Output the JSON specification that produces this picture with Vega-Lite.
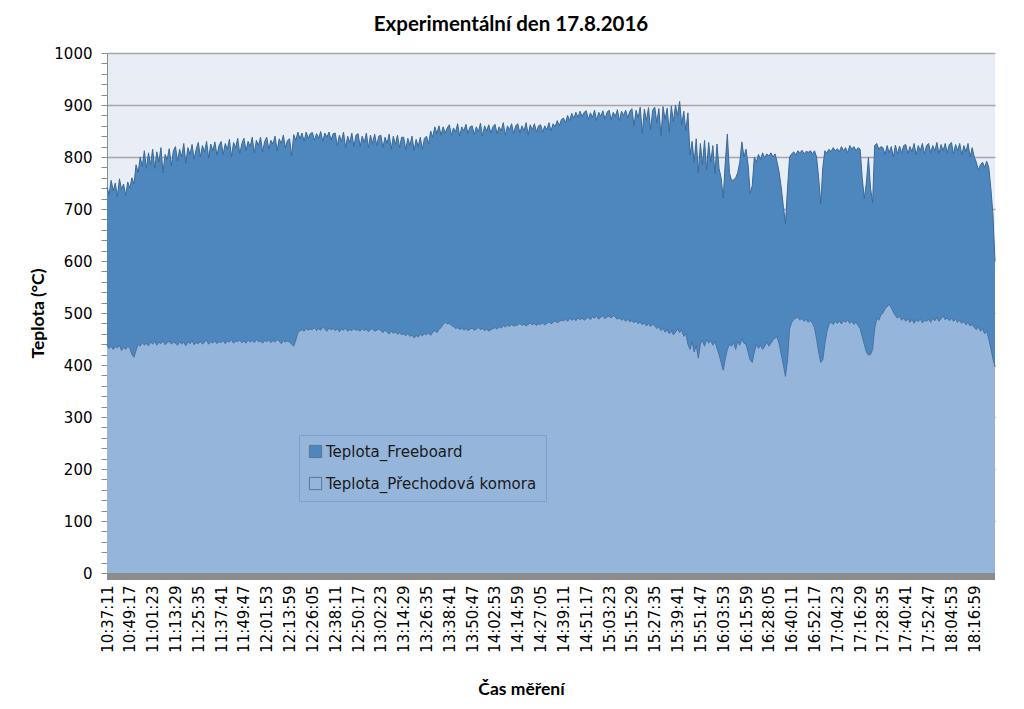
{
"$schema": "https://vega.github.io/schema/vega-lite/v6.json",
"width": 888, "height": 520,
"autosize": {"type": "none"},
"padding": {"left": 107, "top": 53, "right": 29, "bottom": 136},
"background": "white",
"title": {"text": "Experimentální den 17.8.2016", "font": "Lato", "fontSize": 20.5, "fontWeight": "bold", "color": "#000000", "anchor": "middle", "dx": -40, "dy": 19, "offset": 14, "baseline": "alphabetic"},
"data": {"values": [
{"t":"2016-08-17T10:37:11","f":742,"p":438},{"t":"2016-08-17T10:38:17","f":728,"p":432},{"t":"2016-08-17T10:39:23","f":755,"p":436},{"t":"2016-08-17T10:40:29","f":735,"p":430},{"t":"2016-08-17T10:41:35","f":750,"p":435},{"t":"2016-08-17T10:42:41","f":724,"p":433},{"t":"2016-08-17T10:43:47","f":758,"p":438},{"t":"2016-08-17T10:44:53","f":738,"p":428},{"t":"2016-08-17T10:45:59","f":748,"p":434},{"t":"2016-08-17T10:47:05","f":726,"p":430},{"t":"2016-08-17T10:48:11","f":752,"p":436},
{"t":"2016-08-17T10:49:17","f":740,"p":432},{"t":"2016-08-17T10:50:23","f":760,"p":420},{"t":"2016-08-17T10:51:29","f":748,"p":415},{"t":"2016-08-17T10:52:35","f":785,"p":428},{"t":"2016-08-17T10:53:41","f":770,"p":440},{"t":"2016-08-17T10:54:47","f":800,"p":436},{"t":"2016-08-17T10:55:53","f":782,"p":444},{"t":"2016-08-17T10:56:59","f":812,"p":438},{"t":"2016-08-17T10:58:05","f":778,"p":442},{"t":"2016-08-17T10:59:11","f":808,"p":437},{"t":"2016-08-17T11:00:17","f":785,"p":445},
{"t":"2016-08-17T11:01:23","f":815,"p":440},{"t":"2016-08-17T11:02:29","f":778,"p":446},{"t":"2016-08-17T11:03:35","f":810,"p":438},{"t":"2016-08-17T11:04:41","f":790,"p":444},{"t":"2016-08-17T11:05:47","f":818,"p":441},{"t":"2016-08-17T11:06:53","f":770,"p":447},{"t":"2016-08-17T11:07:59","f":805,"p":439},{"t":"2016-08-17T11:09:05","f":795,"p":443},{"t":"2016-08-17T11:10:11","f":816,"p":446},{"t":"2016-08-17T11:11:17","f":783,"p":440},{"t":"2016-08-17T11:12:23","f":812,"p":444},
{"t":"2016-08-17T11:13:29","f":820,"p":442},{"t":"2016-08-17T11:14:35","f":792,"p":438},{"t":"2016-08-17T11:15:41","f":815,"p":446},{"t":"2016-08-17T11:16:47","f":800,"p":440},{"t":"2016-08-17T11:17:53","f":826,"p":444},{"t":"2016-08-17T11:18:59","f":788,"p":437},{"t":"2016-08-17T11:20:05","f":818,"p":445},{"t":"2016-08-17T11:21:11","f":805,"p":441},{"t":"2016-08-17T11:22:17","f":824,"p":447},{"t":"2016-08-17T11:23:23","f":796,"p":439},{"t":"2016-08-17T11:24:29","f":815,"p":443},
{"t":"2016-08-17T11:25:35","f":828,"p":441},{"t":"2016-08-17T11:26:41","f":800,"p":446},{"t":"2016-08-17T11:27:47","f":822,"p":440},{"t":"2016-08-17T11:28:53","f":810,"p":444},{"t":"2016-08-17T11:29:59","f":830,"p":448},{"t":"2016-08-17T11:31:05","f":798,"p":440},{"t":"2016-08-17T11:32:11","f":825,"p":445},{"t":"2016-08-17T11:33:17","f":812,"p":442},{"t":"2016-08-17T11:34:23","f":829,"p":447},{"t":"2016-08-17T11:35:29","f":803,"p":441},{"t":"2016-08-17T11:36:35","f":822,"p":445},
{"t":"2016-08-17T11:37:41","f":830,"p":443},{"t":"2016-08-17T11:38:47","f":805,"p":447},{"t":"2016-08-17T11:39:53","f":826,"p":441},{"t":"2016-08-17T11:40:59","f":815,"p":446},{"t":"2016-08-17T11:42:05","f":834,"p":444},{"t":"2016-08-17T11:43:11","f":800,"p":449},{"t":"2016-08-17T11:44:17","f":828,"p":442},{"t":"2016-08-17T11:45:23","f":818,"p":446},{"t":"2016-08-17T11:46:29","f":836,"p":445},{"t":"2016-08-17T11:47:35","f":806,"p":448},{"t":"2016-08-17T11:48:41","f":826,"p":443},
{"t":"2016-08-17T11:49:47","f":836,"p":446},{"t":"2016-08-17T11:50:53","f":812,"p":442},{"t":"2016-08-17T11:51:59","f":830,"p":448},{"t":"2016-08-17T11:53:05","f":820,"p":444},{"t":"2016-08-17T11:54:11","f":838,"p":447},{"t":"2016-08-17T11:55:17","f":808,"p":443},{"t":"2016-08-17T11:56:23","f":832,"p":449},{"t":"2016-08-17T11:57:29","f":822,"p":445},{"t":"2016-08-17T11:58:35","f":838,"p":446},{"t":"2016-08-17T11:59:41","f":810,"p":442},{"t":"2016-08-17T12:00:47","f":830,"p":447},
{"t":"2016-08-17T12:01:53","f":838,"p":445},{"t":"2016-08-17T12:02:59","f":815,"p":448},{"t":"2016-08-17T12:04:05","f":832,"p":443},{"t":"2016-08-17T12:05:11","f":825,"p":447},{"t":"2016-08-17T12:06:17","f":840,"p":444},{"t":"2016-08-17T12:07:23","f":812,"p":449},{"t":"2016-08-17T12:08:29","f":835,"p":446},{"t":"2016-08-17T12:09:35","f":826,"p":441},{"t":"2016-08-17T12:10:41","f":842,"p":447},{"t":"2016-08-17T12:11:47","f":818,"p":444},{"t":"2016-08-17T12:12:53","f":832,"p":446},
{"t":"2016-08-17T12:13:59","f":835,"p":444},{"t":"2016-08-17T12:15:05","f":802,"p":440},{"t":"2016-08-17T12:16:11","f":843,"p":436},{"t":"2016-08-17T12:17:17","f":832,"p":448},{"t":"2016-08-17T12:18:23","f":848,"p":462},{"t":"2016-08-17T12:19:29","f":835,"p":466},{"t":"2016-08-17T12:20:35","f":846,"p":468},{"t":"2016-08-17T12:21:41","f":830,"p":465},{"t":"2016-08-17T12:22:47","f":848,"p":470},{"t":"2016-08-17T12:23:53","f":836,"p":467},{"t":"2016-08-17T12:24:59","f":845,"p":469},
{"t":"2016-08-17T12:26:05","f":847,"p":468},{"t":"2016-08-17T12:27:11","f":832,"p":472},{"t":"2016-08-17T12:28:17","f":845,"p":466},{"t":"2016-08-17T12:29:23","f":836,"p":470},{"t":"2016-08-17T12:30:29","f":849,"p":467},{"t":"2016-08-17T12:31:35","f":830,"p":473},{"t":"2016-08-17T12:32:41","f":846,"p":469},{"t":"2016-08-17T12:33:47","f":838,"p":465},{"t":"2016-08-17T12:34:53","f":848,"p":471},{"t":"2016-08-17T12:35:59","f":833,"p":468},{"t":"2016-08-17T12:37:05","f":845,"p":470},
{"t":"2016-08-17T12:38:11","f":846,"p":466},{"t":"2016-08-17T12:39:17","f":822,"p":470},{"t":"2016-08-17T12:40:23","f":842,"p":464},{"t":"2016-08-17T12:41:29","f":830,"p":469},{"t":"2016-08-17T12:42:35","f":848,"p":467},{"t":"2016-08-17T12:43:41","f":818,"p":471},{"t":"2016-08-17T12:44:47","f":840,"p":465},{"t":"2016-08-17T12:45:53","f":828,"p":468},{"t":"2016-08-17T12:46:59","f":846,"p":466},{"t":"2016-08-17T12:48:05","f":820,"p":470},{"t":"2016-08-17T12:49:11","f":842,"p":467},
{"t":"2016-08-17T12:50:17","f":845,"p":468},{"t":"2016-08-17T12:51:23","f":820,"p":465},{"t":"2016-08-17T12:52:29","f":840,"p":470},{"t":"2016-08-17T12:53:35","f":828,"p":466},{"t":"2016-08-17T12:54:41","f":846,"p":469},{"t":"2016-08-17T12:55:47","f":818,"p":464},{"t":"2016-08-17T12:56:53","f":842,"p":468},{"t":"2016-08-17T12:57:59","f":826,"p":470},{"t":"2016-08-17T12:59:05","f":844,"p":465},{"t":"2016-08-17T13:00:11","f":822,"p":467},{"t":"2016-08-17T13:01:17","f":840,"p":469},
{"t":"2016-08-17T13:02:23","f":842,"p":466},{"t":"2016-08-17T13:03:29","f":818,"p":462},{"t":"2016-08-17T13:04:35","f":838,"p":468},{"t":"2016-08-17T13:05:41","f":826,"p":463},{"t":"2016-08-17T13:06:47","f":844,"p":460},{"t":"2016-08-17T13:07:53","f":815,"p":465},{"t":"2016-08-17T13:08:59","f":840,"p":461},{"t":"2016-08-17T13:10:05","f":824,"p":464},{"t":"2016-08-17T13:11:11","f":842,"p":459},{"t":"2016-08-17T13:12:17","f":818,"p":462},{"t":"2016-08-17T13:13:23","f":838,"p":458},
{"t":"2016-08-17T13:14:29","f":838,"p":460},{"t":"2016-08-17T13:15:35","f":814,"p":456},{"t":"2016-08-17T13:16:41","f":836,"p":461},{"t":"2016-08-17T13:17:47","f":822,"p":455},{"t":"2016-08-17T13:18:53","f":840,"p":458},{"t":"2016-08-17T13:19:59","f":812,"p":452},{"t":"2016-08-17T13:21:05","f":834,"p":457},{"t":"2016-08-17T13:22:11","f":820,"p":454},{"t":"2016-08-17T13:23:17","f":838,"p":459},{"t":"2016-08-17T13:24:23","f":815,"p":456},{"t":"2016-08-17T13:25:29","f":836,"p":460},
{"t":"2016-08-17T13:26:35","f":840,"p":458},{"t":"2016-08-17T13:27:41","f":825,"p":462},{"t":"2016-08-17T13:28:47","f":850,"p":457},{"t":"2016-08-17T13:29:53","f":838,"p":463},{"t":"2016-08-17T13:30:59","f":858,"p":466},{"t":"2016-08-17T13:32:05","f":845,"p":462},{"t":"2016-08-17T13:33:11","f":860,"p":468},{"t":"2016-08-17T13:34:17","f":842,"p":472},{"t":"2016-08-17T13:35:23","f":858,"p":478},{"t":"2016-08-17T13:36:29","f":846,"p":482},{"t":"2016-08-17T13:37:35","f":856,"p":479},
{"t":"2016-08-17T13:38:41","f":862,"p":480},{"t":"2016-08-17T13:39:47","f":842,"p":476},{"t":"2016-08-17T13:40:53","f":856,"p":474},{"t":"2016-08-17T13:41:59","f":848,"p":470},{"t":"2016-08-17T13:43:05","f":864,"p":472},{"t":"2016-08-17T13:44:11","f":840,"p":468},{"t":"2016-08-17T13:45:17","f":858,"p":471},{"t":"2016-08-17T13:46:23","f":850,"p":467},{"t":"2016-08-17T13:47:29","f":863,"p":470},{"t":"2016-08-17T13:48:35","f":845,"p":466},{"t":"2016-08-17T13:49:41","f":858,"p":469},
{"t":"2016-08-17T13:50:47","f":860,"p":471},{"t":"2016-08-17T13:51:53","f":843,"p":467},{"t":"2016-08-17T13:52:59","f":858,"p":469},{"t":"2016-08-17T13:54:05","f":848,"p":472},{"t":"2016-08-17T13:55:11","f":865,"p":468},{"t":"2016-08-17T13:56:17","f":840,"p":470},{"t":"2016-08-17T13:57:23","f":860,"p":466},{"t":"2016-08-17T13:58:29","f":850,"p":469},{"t":"2016-08-17T13:59:35","f":862,"p":465},{"t":"2016-08-17T14:00:41","f":846,"p":468},{"t":"2016-08-17T14:01:47","f":858,"p":470},
{"t":"2016-08-17T14:02:53","f":863,"p":472},{"t":"2016-08-17T14:03:59","f":845,"p":469},{"t":"2016-08-17T14:05:05","f":858,"p":474},{"t":"2016-08-17T14:06:11","f":850,"p":471},{"t":"2016-08-17T14:07:17","f":866,"p":476},{"t":"2016-08-17T14:08:23","f":842,"p":473},{"t":"2016-08-17T14:09:29","f":860,"p":477},{"t":"2016-08-17T14:10:35","f":852,"p":474},{"t":"2016-08-17T14:11:41","f":864,"p":478},{"t":"2016-08-17T14:12:47","f":845,"p":475},{"t":"2016-08-17T14:13:53","f":860,"p":476},
{"t":"2016-08-17T14:14:59","f":864,"p":477},{"t":"2016-08-17T14:16:05","f":846,"p":480},{"t":"2016-08-17T14:17:11","f":860,"p":476},{"t":"2016-08-17T14:18:17","f":850,"p":479},{"t":"2016-08-17T14:19:23","f":866,"p":475},{"t":"2016-08-17T14:20:29","f":843,"p":478},{"t":"2016-08-17T14:21:35","f":862,"p":481},{"t":"2016-08-17T14:22:41","f":852,"p":477},{"t":"2016-08-17T14:23:47","f":864,"p":480},{"t":"2016-08-17T14:24:53","f":848,"p":476},{"t":"2016-08-17T14:25:59","f":860,"p":479},
{"t":"2016-08-17T14:27:05","f":862,"p":478},{"t":"2016-08-17T14:28:11","f":848,"p":481},{"t":"2016-08-17T14:29:17","f":860,"p":477},{"t":"2016-08-17T14:30:23","f":852,"p":480},{"t":"2016-08-17T14:31:29","f":866,"p":483},{"t":"2016-08-17T14:32:35","f":850,"p":479},{"t":"2016-08-17T14:33:41","f":864,"p":482},{"t":"2016-08-17T14:34:47","f":858,"p":485},{"t":"2016-08-17T14:35:53","f":870,"p":481},{"t":"2016-08-17T14:36:59","f":860,"p":484},{"t":"2016-08-17T14:38:05","f":872,"p":486},
{"t":"2016-08-17T14:39:11","f":875,"p":485},{"t":"2016-08-17T14:40:17","f":866,"p":488},{"t":"2016-08-17T14:41:23","f":880,"p":484},{"t":"2016-08-17T14:42:29","f":870,"p":490},{"t":"2016-08-17T14:43:35","f":884,"p":486},{"t":"2016-08-17T14:44:41","f":874,"p":489},{"t":"2016-08-17T14:45:47","f":886,"p":485},{"t":"2016-08-17T14:46:53","f":876,"p":491},{"t":"2016-08-17T14:47:59","f":888,"p":487},{"t":"2016-08-17T14:49:05","f":878,"p":490},{"t":"2016-08-17T14:50:11","f":886,"p":486},
{"t":"2016-08-17T14:51:17","f":889,"p":489},{"t":"2016-08-17T14:52:23","f":872,"p":492},{"t":"2016-08-17T14:53:29","f":885,"p":487},{"t":"2016-08-17T14:54:35","f":876,"p":493},{"t":"2016-08-17T14:55:41","f":890,"p":490},{"t":"2016-08-17T14:56:47","f":870,"p":494},{"t":"2016-08-17T14:57:53","f":886,"p":488},{"t":"2016-08-17T14:58:59","f":878,"p":492},{"t":"2016-08-17T15:00:05","f":889,"p":495},{"t":"2016-08-17T15:01:11","f":873,"p":489},{"t":"2016-08-17T15:02:17","f":886,"p":493},
{"t":"2016-08-17T15:03:23","f":890,"p":494},{"t":"2016-08-17T15:04:29","f":872,"p":490},{"t":"2016-08-17T15:05:35","f":886,"p":496},{"t":"2016-08-17T15:06:41","f":878,"p":492},{"t":"2016-08-17T15:07:47","f":891,"p":488},{"t":"2016-08-17T15:08:53","f":870,"p":491},{"t":"2016-08-17T15:09:59","f":888,"p":486},{"t":"2016-08-17T15:11:05","f":880,"p":489},{"t":"2016-08-17T15:12:11","f":890,"p":484},{"t":"2016-08-17T15:13:17","f":875,"p":488},{"t":"2016-08-17T15:14:23","f":888,"p":483},
{"t":"2016-08-17T15:15:29","f":893,"p":486},{"t":"2016-08-17T15:16:35","f":860,"p":481},{"t":"2016-08-17T15:17:41","f":890,"p":485},{"t":"2016-08-17T15:18:47","f":875,"p":479},{"t":"2016-08-17T15:19:53","f":896,"p":483},{"t":"2016-08-17T15:20:59","f":845,"p":477},{"t":"2016-08-17T15:22:05","f":892,"p":481},{"t":"2016-08-17T15:23:11","f":870,"p":475},{"t":"2016-08-17T15:24:17","f":895,"p":480},{"t":"2016-08-17T15:25:23","f":852,"p":474},{"t":"2016-08-17T15:26:29","f":890,"p":478},
{"t":"2016-08-17T15:27:35","f":896,"p":476},{"t":"2016-08-17T15:28:41","f":866,"p":470},{"t":"2016-08-17T15:29:47","f":893,"p":474},{"t":"2016-08-17T15:30:53","f":840,"p":466},{"t":"2016-08-17T15:31:59","f":897,"p":471},{"t":"2016-08-17T15:33:05","f":872,"p":463},{"t":"2016-08-17T15:34:11","f":894,"p":468},{"t":"2016-08-17T15:35:17","f":848,"p":460},{"t":"2016-08-17T15:36:23","f":898,"p":466},{"t":"2016-08-17T15:37:29","f":868,"p":458},{"t":"2016-08-17T15:38:35","f":900,"p":463},
{"t":"2016-08-17T15:39:41","f":880,"p":470},{"t":"2016-08-17T15:40:47","f":907,"p":462},{"t":"2016-08-17T15:41:53","f":862,"p":468},{"t":"2016-08-17T15:42:59","f":888,"p":455},{"t":"2016-08-17T15:44:05","f":850,"p":460},{"t":"2016-08-17T15:45:11","f":885,"p":440},{"t":"2016-08-17T15:46:17","f":804,"p":430},{"t":"2016-08-17T15:47:23","f":830,"p":445},{"t":"2016-08-17T15:48:29","f":790,"p":425},{"t":"2016-08-17T15:49:35","f":835,"p":438},{"t":"2016-08-17T15:50:41","f":770,"p":413},
{"t":"2016-08-17T15:51:47","f":826,"p":440},{"t":"2016-08-17T15:52:53","f":785,"p":448},{"t":"2016-08-17T15:53:59","f":832,"p":436},{"t":"2016-08-17T15:55:05","f":775,"p":450},{"t":"2016-08-17T15:56:11","f":828,"p":442},{"t":"2016-08-17T15:57:17","f":790,"p":447},{"t":"2016-08-17T15:58:23","f":822,"p":438},{"t":"2016-08-17T15:59:29","f":768,"p":446},{"t":"2016-08-17T16:00:35","f":825,"p":432},{"t":"2016-08-17T16:01:41","f":778,"p":420},{"t":"2016-08-17T16:02:47","f":760,"p":405},
{"t":"2016-08-17T16:03:53","f":721,"p":390},{"t":"2016-08-17T16:04:59","f":790,"p":412},{"t":"2016-08-17T16:06:05","f":844,"p":430},{"t":"2016-08-17T16:07:11","f":770,"p":440},{"t":"2016-08-17T16:08:17","f":755,"p":436},{"t":"2016-08-17T16:09:23","f":756,"p":444},{"t":"2016-08-17T16:10:29","f":760,"p":430},{"t":"2016-08-17T16:11:35","f":770,"p":446},{"t":"2016-08-17T16:12:41","f":790,"p":438},{"t":"2016-08-17T16:13:47","f":829,"p":450},{"t":"2016-08-17T16:14:53","f":800,"p":442},
{"t":"2016-08-17T16:15:59","f":815,"p":440},{"t":"2016-08-17T16:17:05","f":785,"p":425},{"t":"2016-08-17T16:18:11","f":730,"p":410},{"t":"2016-08-17T16:19:17","f":745,"p":405},{"t":"2016-08-17T16:20:23","f":800,"p":425},{"t":"2016-08-17T16:21:29","f":790,"p":440},{"t":"2016-08-17T16:22:35","f":805,"p":432},{"t":"2016-08-17T16:23:41","f":795,"p":438},{"t":"2016-08-17T16:24:47","f":808,"p":430},{"t":"2016-08-17T16:25:53","f":798,"p":436},{"t":"2016-08-17T16:26:59","f":806,"p":445},
{"t":"2016-08-17T16:28:05","f":802,"p":436},{"t":"2016-08-17T16:29:11","f":808,"p":442},{"t":"2016-08-17T16:30:17","f":800,"p":448},{"t":"2016-08-17T16:31:23","f":806,"p":452},{"t":"2016-08-17T16:32:29","f":790,"p":454},{"t":"2016-08-17T16:33:35","f":770,"p":440},{"t":"2016-08-17T16:34:41","f":740,"p":420},{"t":"2016-08-17T16:35:47","f":705,"p":400},{"t":"2016-08-17T16:36:53","f":672,"p":378},{"t":"2016-08-17T16:37:59","f":740,"p":410},{"t":"2016-08-17T16:39:05","f":800,"p":470},
{"t":"2016-08-17T16:40:11","f":806,"p":482},{"t":"2016-08-17T16:41:17","f":810,"p":488},{"t":"2016-08-17T16:42:23","f":804,"p":490},{"t":"2016-08-17T16:43:29","f":812,"p":492},{"t":"2016-08-17T16:44:35","f":808,"p":486},{"t":"2016-08-17T16:45:41","f":813,"p":490},{"t":"2016-08-17T16:46:47","f":806,"p":484},{"t":"2016-08-17T16:47:53","f":811,"p":488},{"t":"2016-08-17T16:48:59","f":809,"p":482},{"t":"2016-08-17T16:50:05","f":812,"p":486},{"t":"2016-08-17T16:51:11","f":806,"p":480},
{"t":"2016-08-17T16:52:17","f":812,"p":472},{"t":"2016-08-17T16:53:23","f":800,"p":450},{"t":"2016-08-17T16:54:29","f":760,"p":425},{"t":"2016-08-17T16:55:35","f":710,"p":405},{"t":"2016-08-17T16:56:41","f":780,"p":410},{"t":"2016-08-17T16:57:47","f":812,"p":440},{"t":"2016-08-17T16:58:53","f":808,"p":465},{"t":"2016-08-17T16:59:59","f":815,"p":478},{"t":"2016-08-17T17:01:05","f":810,"p":482},{"t":"2016-08-17T17:02:11","f":818,"p":478},{"t":"2016-08-17T17:03:17","f":812,"p":484},
{"t":"2016-08-17T17:04:23","f":816,"p":480},{"t":"2016-08-17T17:05:29","f":810,"p":485},{"t":"2016-08-17T17:06:35","f":820,"p":479},{"t":"2016-08-17T17:07:41","f":812,"p":486},{"t":"2016-08-17T17:08:47","f":818,"p":482},{"t":"2016-08-17T17:09:53","f":808,"p":487},{"t":"2016-08-17T17:10:59","f":822,"p":480},{"t":"2016-08-17T17:12:05","f":815,"p":484},{"t":"2016-08-17T17:13:11","f":820,"p":478},{"t":"2016-08-17T17:14:17","f":812,"p":483},{"t":"2016-08-17T17:15:23","f":818,"p":476},
{"t":"2016-08-17T17:16:29","f":815,"p":470},{"t":"2016-08-17T17:17:35","f":760,"p":455},{"t":"2016-08-17T17:18:41","f":720,"p":440},{"t":"2016-08-17T17:19:47","f":750,"p":425},{"t":"2016-08-17T17:20:53","f":800,"p":419},{"t":"2016-08-17T17:21:59","f":740,"p":420},{"t":"2016-08-17T17:23:05","f":712,"p":430},{"t":"2016-08-17T17:24:11","f":822,"p":470},{"t":"2016-08-17T17:25:17","f":826,"p":490},{"t":"2016-08-17T17:26:23","f":815,"p":486},{"t":"2016-08-17T17:27:29","f":820,"p":496},
{"t":"2016-08-17T17:28:35","f":818,"p":500},{"t":"2016-08-17T17:29:41","f":805,"p":508},{"t":"2016-08-17T17:30:47","f":822,"p":512},{"t":"2016-08-17T17:31:53","f":808,"p":517},{"t":"2016-08-17T17:32:59","f":820,"p":510},{"t":"2016-08-17T17:34:05","f":800,"p":502},{"t":"2016-08-17T17:35:11","f":823,"p":495},{"t":"2016-08-17T17:36:17","f":806,"p":490},{"t":"2016-08-17T17:37:23","f":821,"p":494},{"t":"2016-08-17T17:38:29","f":808,"p":486},{"t":"2016-08-17T17:39:35","f":822,"p":490},
{"t":"2016-08-17T17:40:41","f":824,"p":484},{"t":"2016-08-17T17:41:47","f":806,"p":490},{"t":"2016-08-17T17:42:53","f":820,"p":482},{"t":"2016-08-17T17:43:59","f":810,"p":488},{"t":"2016-08-17T17:45:05","f":826,"p":480},{"t":"2016-08-17T17:46:11","f":804,"p":487},{"t":"2016-08-17T17:47:17","f":822,"p":483},{"t":"2016-08-17T17:48:23","f":812,"p":489},{"t":"2016-08-17T17:49:29","f":826,"p":481},{"t":"2016-08-17T17:50:35","f":806,"p":486},{"t":"2016-08-17T17:51:41","f":822,"p":484},
{"t":"2016-08-17T17:52:47","f":826,"p":488},{"t":"2016-08-17T17:53:53","f":808,"p":482},{"t":"2016-08-17T17:54:59","f":822,"p":490},{"t":"2016-08-17T17:56:05","f":812,"p":485},{"t":"2016-08-17T17:57:11","f":828,"p":492},{"t":"2016-08-17T17:58:17","f":806,"p":484},{"t":"2016-08-17T17:59:23","f":824,"p":489},{"t":"2016-08-17T18:00:29","f":812,"p":495},{"t":"2016-08-17T18:01:35","f":826,"p":487},{"t":"2016-08-17T18:02:41","f":808,"p":491},{"t":"2016-08-17T18:03:47","f":824,"p":485},
{"t":"2016-08-17T18:04:53","f":828,"p":490},{"t":"2016-08-17T18:05:59","f":806,"p":484},{"t":"2016-08-17T18:07:05","f":824,"p":488},{"t":"2016-08-17T18:08:11","f":812,"p":482},{"t":"2016-08-17T18:09:17","f":826,"p":486},{"t":"2016-08-17T18:10:23","f":804,"p":480},{"t":"2016-08-17T18:11:29","f":822,"p":484},{"t":"2016-08-17T18:12:35","f":810,"p":477},{"t":"2016-08-17T18:13:41","f":826,"p":482},{"t":"2016-08-17T18:14:47","f":800,"p":475},{"t":"2016-08-17T18:15:53","f":818,"p":478},
{"t":"2016-08-17T18:16:59","f":800,"p":472},{"t":"2016-08-17T18:18:05","f":790,"p":468},{"t":"2016-08-17T18:19:11","f":775,"p":474},{"t":"2016-08-17T18:20:17","f":785,"p":465},{"t":"2016-08-17T18:21:23","f":790,"p":470},{"t":"2016-08-17T18:22:29","f":780,"p":460},{"t":"2016-08-17T18:23:35","f":792,"p":465},{"t":"2016-08-17T18:24:41","f":780,"p":450},{"t":"2016-08-17T18:25:47","f":740,"p":432},{"t":"2016-08-17T18:26:53","f":690,"p":412},{"t":"2016-08-17T18:27:59","f":600,"p":396}
]},
"resolve": {"axis": {"x": "independent", "y": "independent"}},
"layer": [
{
"mark": {"type": "area", "opacity": 1},
"encoding": {
"x": {"field": "t", "type": "temporal",
 "scale": {"nice": false, "domain": [{"year":2016,"month":8,"date":17,"hours":10,"minutes":37,"seconds":11},{"year":2016,"month":8,"date":17,"hours":18,"minutes":27,"seconds":59}]},
 "axis": {
  "values": [
   {"year":2016,"month":8,"date":17,"hours":10,"minutes":37,"seconds":11},
   {"year":2016,"month":8,"date":17,"hours":10,"minutes":49,"seconds":17},
   {"year":2016,"month":8,"date":17,"hours":11,"minutes":1,"seconds":23},
   {"year":2016,"month":8,"date":17,"hours":11,"minutes":13,"seconds":29},
   {"year":2016,"month":8,"date":17,"hours":11,"minutes":25,"seconds":35},
   {"year":2016,"month":8,"date":17,"hours":11,"minutes":37,"seconds":41},
   {"year":2016,"month":8,"date":17,"hours":11,"minutes":49,"seconds":47},
   {"year":2016,"month":8,"date":17,"hours":12,"minutes":1,"seconds":53},
   {"year":2016,"month":8,"date":17,"hours":12,"minutes":13,"seconds":59},
   {"year":2016,"month":8,"date":17,"hours":12,"minutes":26,"seconds":5},
   {"year":2016,"month":8,"date":17,"hours":12,"minutes":38,"seconds":11},
   {"year":2016,"month":8,"date":17,"hours":12,"minutes":50,"seconds":17},
   {"year":2016,"month":8,"date":17,"hours":13,"minutes":2,"seconds":23},
   {"year":2016,"month":8,"date":17,"hours":13,"minutes":14,"seconds":29},
   {"year":2016,"month":8,"date":17,"hours":13,"minutes":26,"seconds":35},
   {"year":2016,"month":8,"date":17,"hours":13,"minutes":38,"seconds":41},
   {"year":2016,"month":8,"date":17,"hours":13,"minutes":50,"seconds":47},
   {"year":2016,"month":8,"date":17,"hours":14,"minutes":2,"seconds":53},
   {"year":2016,"month":8,"date":17,"hours":14,"minutes":14,"seconds":59},
   {"year":2016,"month":8,"date":17,"hours":14,"minutes":27,"seconds":5},
   {"year":2016,"month":8,"date":17,"hours":14,"minutes":39,"seconds":11},
   {"year":2016,"month":8,"date":17,"hours":14,"minutes":51,"seconds":17},
   {"year":2016,"month":8,"date":17,"hours":15,"minutes":3,"seconds":23},
   {"year":2016,"month":8,"date":17,"hours":15,"minutes":15,"seconds":29},
   {"year":2016,"month":8,"date":17,"hours":15,"minutes":27,"seconds":35},
   {"year":2016,"month":8,"date":17,"hours":15,"minutes":39,"seconds":41},
   {"year":2016,"month":8,"date":17,"hours":15,"minutes":51,"seconds":47},
   {"year":2016,"month":8,"date":17,"hours":16,"minutes":3,"seconds":53},
   {"year":2016,"month":8,"date":17,"hours":16,"minutes":15,"seconds":59},
   {"year":2016,"month":8,"date":17,"hours":16,"minutes":28,"seconds":5},
   {"year":2016,"month":8,"date":17,"hours":16,"minutes":40,"seconds":11},
   {"year":2016,"month":8,"date":17,"hours":16,"minutes":52,"seconds":17},
   {"year":2016,"month":8,"date":17,"hours":17,"minutes":4,"seconds":23},
   {"year":2016,"month":8,"date":17,"hours":17,"minutes":16,"seconds":29},
   {"year":2016,"month":8,"date":17,"hours":17,"minutes":28,"seconds":35},
   {"year":2016,"month":8,"date":17,"hours":17,"minutes":40,"seconds":41},
   {"year":2016,"month":8,"date":17,"hours":17,"minutes":52,"seconds":47},
   {"year":2016,"month":8,"date":17,"hours":18,"minutes":4,"seconds":53},
   {"year":2016,"month":8,"date":17,"hours":18,"minutes":16,"seconds":59}
  ],
  "format": "%H:%M:%S", "labelAngle": -90, "labelFont": "DejaVu Sans", "labelFontSize": 15, "labelColor": "#000000",
  "labelPadding": 12, "ticks": false, "tickSize": 0, "domain": false, "grid": false, "labelOverlap": false, "labelFlush": false, "labelBound": false,
  "title": "Čas měření", "titleFont": "Lato", "titleFontSize": 17.5, "titleFontWeight": "bold", "titleColor": "#000000",
  "titleX": 414, "titleY": 121, "titleAlign": "center", "titleBaseline": "alphabetic"
 }},
"y": {"field": "f", "type": "quantitative", "scale": {"domain": [0, 1000], "nice": false},
 "axis": {
  "values": [0,20,40,60,80,100,120,140,160,180,200,220,240,260,280,300,320,340,360,380,400,420,440,460,480,500,520,540,560,580,600,620,640,660,680,700,720,740,760,780,800,820,840,860,880,900,920,940,960,980,1000],
  "format": "d", "labelExpr": "datum.value % 100 === 0 ? datum.label : ''", "labelOverlap": false, "labelBound": false,
  "labelFont": "DejaVu Sans", "labelFontSize": 15, "labelColor": "#000000", "labelPadding": 9,
  "tickSize": 6, "tickColor": "#8C8C8C", "domainColor": "#8C8C8C",
  "grid": true, "gridColor": "#A6A6A6", "gridWidth": 1.5,
  "gridOpacity": {"condition": {"test": "datum.value % 100 === 0 && datum.value > 0", "value": 1}, "value": 0},
  "title": "Teplota (°C)", "titleFont": "Lato", "titleFontSize": 17.5, "titleFontWeight": "bold", "titleColor": "#000000",
  "titleX": -69, "titleY": 260, "titleAngle": -90, "titleAlign": "center", "titleBaseline": "middle"
 }},
"color": {"datum": "Teplota_Freeboard", "type": "nominal",
 "scale": {"domain": ["Teplota_Freeboard", "Teplota_Přechodová komora"], "range": ["#4E87BD", "#96B5DA"]},
 "legend": {"title": null, "orient": "none", "legendX": 192, "legendY": 382, "symbolType": "square", "symbolSize": 150,
  "symbolStrokeColor": "#5C7598", "symbolStrokeWidth": 1, "symbolOpacity": 1,
  "labelFont": "DejaVu Sans", "labelFontSize": 15, "labelColor": "#1a1a1a", "labelOffset": 3, "labelLimit": 400,
  "strokeColor": "#7F9FCF", "padding": 9, "rowPadding": 15}}
}
},
{
"mark": {"type": "line", "color": "#3A6998", "strokeWidth": 1},
"encoding": {
"x": {"field": "t", "type": "temporal", "axis": null},
"y": {"field": "f", "type": "quantitative", "axis": null}
}
},
{
"mark": {"type": "area", "opacity": 1},
"encoding": {
"x": {"field": "t", "type": "temporal", "axis": null},
"y": {"field": "p", "type": "quantitative", "axis": null},
"color": {"datum": "Teplota_Přechodová komora", "type": "nominal"}
}
},
{
"mark": {"type": "line", "color": "#4673A6", "strokeWidth": 1},
"encoding": {
"x": {"field": "t", "type": "temporal", "axis": null},
"y": {"field": "p", "type": "quantitative", "axis": null}
}
},
{
"data": {"values": [{}]},
"mark": {"type": "rule", "color": "#8C8C8C", "strokeWidth": 7, "yOffset": 3.5},
"encoding": {"y": {"datum": 0, "type": "quantitative", "axis": null}}
}
],
"config": {"view": {"stroke": null, "fill": "#E9EDF5"}, "axis": {"labelOverlap": false}}
}
